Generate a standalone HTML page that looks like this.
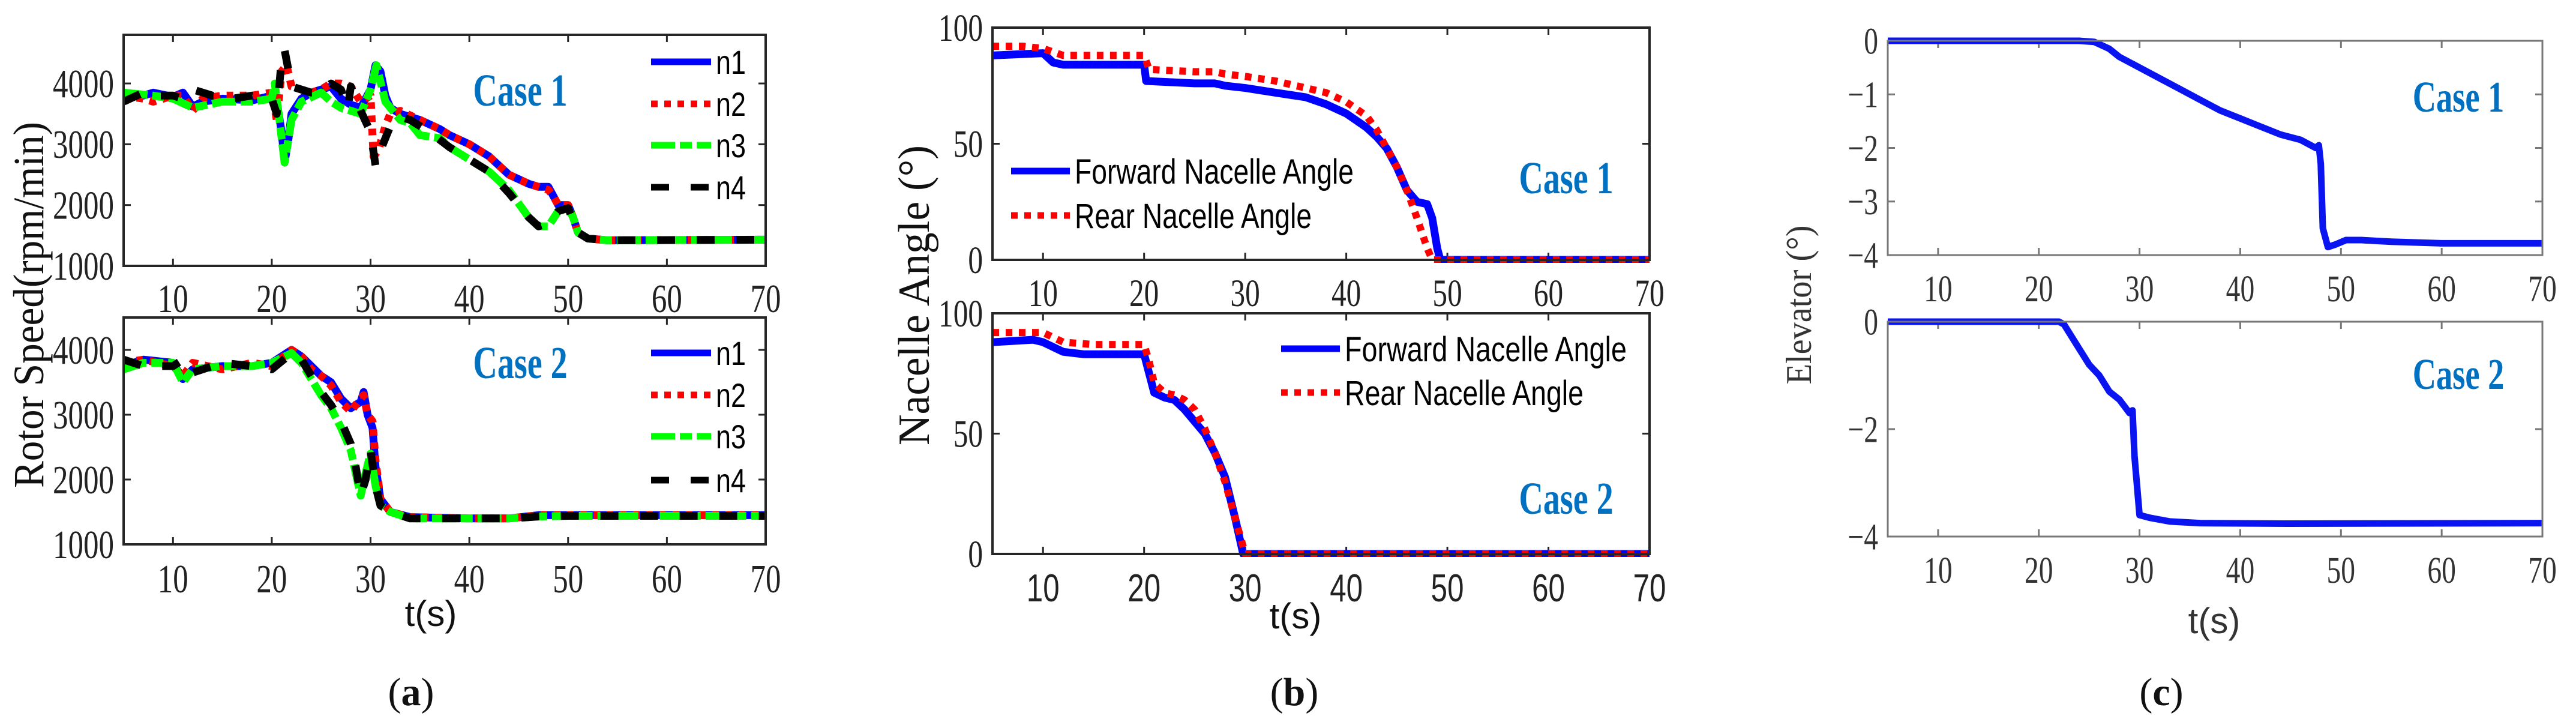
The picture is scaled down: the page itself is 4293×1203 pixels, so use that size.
<!DOCTYPE html>
<html><head><meta charset="utf-8"><style>
html,body{margin:0;padding:0;background:#fff;}
svg{display:block;}
</style></head><body>
<svg id="fig" width="4293" height="1203" viewBox="0 0 4293 1203" xmlns="http://www.w3.org/2000/svg">
<g id="layer"></g>
</svg>
<script>
// ---------- data ----------
const ticksX = [10,20,30,40,50,60,70];
const rpmTicks = [1000,2000,3000,4000];
const nacTicks = [0,50,100];
const elevTicks1 = [-4,-3,-2,-1,0];
const elevTicks2 = [-4,-2,0];

const a1_t_n1 = [5,7,8,10,11,12,13,15,18,20,20.5,21,21.3,21.7,22,23,24,25,26,27,28,29,30,30.5,31,31.5,32,33,35,37,38,40,42,44,46,47,48,48.5,49,50,50.5,51,52,54,70];
const a1_n1   = [3850,3800,3850,3780,3850,3620,3700,3750,3720,3800,3700,3200,2700,3100,3500,3750,3850,3900,3950,3750,3650,3600,3900,4300,4200,3800,3600,3500,3400,3250,3150,3000,2800,2500,2350,2300,2300,2150,2000,2000,1800,1550,1450,1420,1430];
const a1_t_n2 = [5,7,8,10,11,12,13,15,18,20,20.5,21,21.5,22,23,24,25,26,27,28,29,30,30.3,30.8,31.5,32,33,35,37,38,40,42,44,46,47,48,48.5,49,50,50.5,51,52,54,70];
const a1_n2   = [3800,3750,3700,3800,3800,3550,3750,3800,3800,3850,3400,4200,4300,3950,3900,3850,3900,4000,4000,3950,3700,3800,2800,2900,3300,3500,3550,3400,3250,3150,3000,2800,2500,2350,2300,2250,2150,2000,2000,1800,1550,1450,1420,1430];
const a1_t_n3 = [5,8,10,12,15,18,20,20.3,20.7,21.3,22,23,25,26,27,28,29,30,30.6,31.5,33,34,35,37,38,40,42,44,46,47,48,49,50,50.5,51,52,54,70];
const a1_n3   = [3850,3800,3750,3600,3700,3700,3750,4000,3500,2700,3400,3700,3850,3700,3600,3550,3500,3900,4300,3700,3400,3350,3150,3100,2950,2750,2550,2250,1800,1650,1650,1900,1950,1800,1550,1450,1420,1430];
const a1_t_n4 = [5,7,8,10,11,12,14,16,18,20,20.5,21,21.3,22,24,25,26,27,27.7,28,29,30,30.5,31,32,33,34,35,36,38,40,42,44,46,47,48,49,50,51,52,54,70];
const a1_n4   = [3700,3850,3800,3800,3750,3900,3800,3750,3800,3750,3500,4400,4550,3950,3850,3850,4000,3900,3600,3950,3550,3200,2650,2900,3300,3450,3400,3300,3200,2950,2750,2550,2200,1800,1650,1700,1900,1950,1550,1450,1420,1430];

const a2_t_n1 = [5,7,10,11,12,15,18,20,22,23,24,25,26,27,28,29,29.3,29.7,30.2,30.5,31,32,34,40,44,47,50,70];
const a2_n1   = [3750,3850,3800,3550,3700,3750,3750,3800,4000,3900,3750,3600,3500,3250,3100,3200,3350,3000,2800,2200,1700,1500,1420,1400,1400,1450,1450,1450];
const a2_t_n2 = [5,7,10,11,12,15,18,20,22,23,24,25,26,27,28,29,29.3,29.7,30.2,30.5,31,32,34,40,44,47,50,70];
const a2_n2   = [3800,3850,3750,3600,3800,3700,3800,3750,4000,3900,3700,3600,3450,3200,3050,3250,3300,3000,2900,2300,1700,1500,1420,1400,1400,1450,1450,1450];
const a2_t_n3 = [5,7,10,11,12,15,18,20,22,23,24,25,26,27,28,28.5,29,29.5,30,30.5,31,32,34,40,44,47,50,70];
const a2_n3   = [3700,3800,3800,3500,3700,3750,3750,3800,3950,3800,3550,3300,3100,2800,2450,2100,1750,2100,2400,1900,1600,1500,1400,1400,1400,1430,1440,1440];
const a2_t_n4 = [5,7,10,11,12,15,18,20,22,23,24,25,26,27,28,28.5,29,29.5,30,30.5,31,32,34,40,44,47,50,70];
const a2_n4   = [3850,3750,3750,3850,3650,3800,3750,3700,3950,3850,3600,3350,3150,2900,2550,2200,1750,2000,2450,1900,1600,1500,1400,1400,1400,1430,1440,1440];

const b1_t_fwd = [5,10,11,12,20,20.2,25,27,28,30,33,36,38,40,42,43,44,45,46,47,48,48.5,49,49.3,70];
const b1_fwd   = [88,89,85,84,84,77,76,76,75,74,72,70,67,63,57,53,48,40,30,25,24,18,5,0,0];
const b1_t_rear = [5,8,10,12,15,20,20.5,25,27,28,30,33,36,38,40,42,43,44,45,46,47,48,48.5,70];
const b1_rear   = [92,92,91,88,88,88,82,81,81,80,79,77,74,72,68,62,56,48,40,30,18,5,0,0];
const b2_t_fwd = [5,9,10,12,14,20,20.5,21,22,23,24,25,26,27,28,29,29.8,70];
const b2_fwd   = [88,89,88,84,83,83,75,67,65,64,60,55,50,42,32,15,0,0];
const b2_t_rear = [5,10,12,15,20,20.5,21,22,23,24,25,26,27,28,29,30,70];
const b2_rear   = [92,92,88,87,87,80,71,67,66,64,60,52,42,30,15,0,0];

const c1_t = [5,24,25.5,27,28,30,32,34,36,38,40,42,44,46,47.5,47.8,48,48.2,48.7,49.5,50.5,52,55,60,70];
const c1_v = [0,0,-0.02,-0.15,-0.3,-0.5,-0.7,-0.9,-1.1,-1.3,-1.45,-1.6,-1.75,-1.85,-2,-1.95,-2.3,-3.5,-3.85,-3.8,-3.72,-3.72,-3.75,-3.78,-3.78];
const c2_t = [5,22,22.5,23,24,25,26,27,28,29,29.3,29.5,30,31,33,36,45,70];
const c2_v = [0,0,-0.05,-0.2,-0.5,-0.8,-1.0,-1.3,-1.45,-1.7,-1.65,-2.5,-3.6,-3.65,-3.72,-3.75,-3.76,-3.75];

// ---------- drawing ----------
const NS = "http://www.w3.org/2000/svg";
const layer = document.getElementById('layer');
function el(tag, attrs, parent){
  const e = document.createElementNS(NS, tag);
  for (const k in attrs) e.setAttribute(k, attrs[k]);
  (parent||layer).appendChild(e);
  return e;
}
function txt(s, x, y, size, family, parent, extra){
  const t = el('text', Object.assign({x:x, y:y, 'font-size':size, 'font-family':family, fill:'#222'}, extra||{}), parent);
  t.textContent = s;
  return t;
}
const SERIF = '"Liberation Serif", serif';
const SANS = '"Liberation Sans", sans-serif';

function axes(cfg){
  const g = el('g', {});
  
  
  const sx = t => cfg.x0 + (t-5)/(65)*(cfg.x1-cfg.x0);
  const sy = v => cfg.y1 - (v-cfg.ymin)/(cfg.ymax-cfg.ymin)*(cfg.y1-cfg.y0);
  const col = cfg.axisColor || '#262626';
  ticksX.forEach(t => {
    el('line', {x1:sx(t), x2:sx(t), y1:cfg.y1, y2:cfg.y1-12, stroke:col, 'stroke-width':3}, g);
    el('line', {x1:sx(t), x2:sx(t), y1:cfg.y0, y2:cfg.y0+12, stroke:col, 'stroke-width':3}, g);
    const lb = txt(String(t), sx(t), cfg.xLabelY, cfg.tickSize, cfg.tickFont, g, {'text-anchor':'middle', fill:cfg.tickColor||'#222', transform:'translate('+sx(t)+','+cfg.xLabelY+') scale(0.85,1.12) translate('+(-sx(t))+','+(-cfg.xLabelY)+')'});
    
    
  });
  cfg.yTicks.forEach(v => {
    el('line', {x1:cfg.x0, x2:cfg.x0+12, y1:sy(v), y2:sy(v), stroke:col, 'stroke-width':3}, g);
    el('line', {x1:cfg.x1, x2:cfg.x1-12, y1:sy(v), y2:sy(v), stroke:col, 'stroke-width':3}, g);
    const ly = sy(v)+cfg.tickSize*0.38, lx = cfg.x0-16;
    const lb = txt(cfg.fmt ? cfg.fmt(v) : String(v), lx, ly, cfg.tickSize, SERIF, g, {'text-anchor':'end', fill:cfg.tickColor||'#222', transform:'translate('+lx+','+ly+') scale(0.85,1.12) translate('+(-lx)+','+(-ly)+')'});
    
    
  });
  const clipId = cfg.name + '-clip';
  const cp = el('clipPath', {id:clipId}, g);
  el('rect', {x:cfg.x0, y:cfg.y0-20, width:cfg.x1-cfg.x0+20, height:cfg.y1-cfg.y0+25}, cp);
  cfg.series.forEach(s => {
    const d = s.t.map((t,i) => (i?'L':'M') + sx(t).toFixed(1) + ',' + sy(s.v[i]).toFixed(1)).join(' ');
    const p = el('path', {d:d, fill:'none', stroke:s.color, 'stroke-width':s.w, 'stroke-linejoin':'round', 'clip-path':'url(#'+clipId+')'}, g);
    if (s.dash) p.setAttribute('stroke-dasharray', s.dash);
    
    
  });
  const box = el('rect', {x:cfg.x0, y:cfg.y0, width:cfg.x1-cfg.x0, height:cfg.y1-cfg.y0, fill:'none', stroke:col, 'stroke-width':cfg.boxW||4}, g);
  
  
  return {g, sx, sy};
}
function legendEntry(parent, x, y, len, color, w, dash, label, size, name, tlen){
  const lg = el('g', {}, parent);
  
  
  const ln = el('line', {x1:x, x2:x+len, y1:y, y2:y, stroke:color, 'stroke-width':w}, lg);
  if (dash) ln.setAttribute('stroke-dasharray', dash);
  const t = txt(label, x+len+8, y+size*0.36, size, SANS, lg, {fill:'#000'});
  if (tlen) { t.setAttribute('textLength', tlen); t.setAttribute('lengthAdjust', 'spacingAndGlyphs'); }
}
function caseLabel(parent, s, x, y, size, name){
  const t = txt(s, x, y, size, SERIF, parent, {'text-anchor':'middle', 'font-weight':'bold', fill:'#0070C0', transform:'translate('+x+','+y+') scale(0.85,1.15) translate('+(-x)+','+(-y)+')'});
  
  
}
const DOT='11 11', DASH='40 8 20 8', DDASH='30 36';

// Panel (a)
const a1 = axes({name:'rotor-speed-case1', x0:206, x1:1276, y0:58, y1:443, ymin:1000, ymax:4800, yTicks:rpmTicks, xLabelY:520, tickSize:60, tickFont:SERIF,
  series:[{t:a1_t_n1,v:a1_n1,color:'#0000ff',w:13,dn:'n1-line'},{t:a1_t_n2,v:a1_n2,color:'#ff0000',w:13,dash:DOT,dn:'n2-line'},
          {t:a1_t_n3,v:a1_n3,color:'#00ff00',w:13,dash:DASH,dn:'n3-line'},{t:a1_t_n4,v:a1_n4,color:'#000',w:13,dash:DDASH,dn:'n4-line'}]});
legendEntry(a1.g,1085,103,100,'#0000ff',11,null,'n1',56,'legend-n1',50);
legendEntry(a1.g,1085,173,100,'#ff0000',11,DOT,'n2',56,'legend-n2',50);
legendEntry(a1.g,1085,242,100,'#00ff00',11,DASH,'n3',56,'legend-n3',50);
legendEntry(a1.g,1085,312,100,'#000',11,DDASH,'n4',56,'legend-n4',50);
caseLabel(a1.g,'Case 1',867,176,66,'case1-label');

const a2 = axes({name:'rotor-speed-case2', x0:206, x1:1276, y0:529, y1:907, ymin:1000, ymax:4500, yTicks:rpmTicks, xLabelY:987, tickSize:60, tickFont:SERIF,
  series:[{t:a2_t_n1,v:a2_n1,color:'#0000ff',w:13,dn:'n1-line'},{t:a2_t_n2,v:a2_n2,color:'#ff0000',w:13,dash:DOT,dn:'n2-line'},
          {t:a2_t_n3,v:a2_n3,color:'#00ff00',w:13,dash:DASH,dn:'n3-line'},{t:a2_t_n4,v:a2_n4,color:'#000',w:13,dash:DDASH,dn:'n4-line'}]});
legendEntry(a2.g,1085,588,100,'#0000ff',11,null,'n1',56,'legend-n1',50);
legendEntry(a2.g,1085,658,100,'#ff0000',11,DOT,'n2',56,'legend-n2',50);
legendEntry(a2.g,1085,727,100,'#00ff00',11,DASH,'n3',56,'legend-n3',50);
legendEntry(a2.g,1085,800,100,'#000',11,DDASH,'n4',56,'legend-n4',50);
caseLabel(a2.g,'Case 2',867,630,66,'case2-label');

// Panel (b)
const b1 = axes({name:'nacelle-case1', x0:1654, x1:2749, y0:46, y1:433, ymin:0, ymax:100, yTicks:nacTicks, xLabelY:510, tickSize:58, tickFont:SERIF,
  series:[{t:b1_t_fwd,v:b1_fwd,color:'#0000ff',w:13,dn:'forward-nacelle-line'},{t:b1_t_rear,v:b1_rear,color:'#ff0000',w:12,dash:DOT,dn:'rear-nacelle-line'}]});
legendEntry(b1.g,1685,285,98,'#0000ff',11,null,'Forward Nacelle Angle',58,'legend-forward',465);
legendEntry(b1.g,1685,359,98,'#ff0000',11,DOT,'Rear Nacelle Angle',58,'legend-rear',395);
caseLabel(b1.g,'Case 1',2610,322,66,'case1-label');

const b2 = axes({name:'nacelle-case2', x0:1654, x1:2749, y0:522, y1:923, ymin:0, ymax:100, yTicks:nacTicks, xLabelY:1002, tickSize:58, tickFont:SANS,
  series:[{t:b2_t_fwd,v:b2_fwd,color:'#0000ff',w:13,dn:'forward-nacelle-line'},{t:b2_t_rear,v:b2_rear,color:'#ff0000',w:12,dash:DOT,dn:'rear-nacelle-line'}]});
legendEntry(b2.g,2135,581,98,'#0000ff',11,null,'Forward Nacelle Angle',58,'legend-forward',470);
legendEntry(b2.g,2135,654,98,'#ff0000',11,DOT,'Rear Nacelle Angle',58,'legend-rear',398);
caseLabel(b2.g,'Case 2',2610,856,66,'case2-label');

// Panel (c)
const c1 = axes({name:'elevator-case1', x0:3146, x1:4237, y0:68, y1:425, ymin:-4, ymax:0, yTicks:elevTicks1, xLabelY:502, tickSize:56, tickFont:SERIF,
  axisColor:'#777', boxW:3, tickColor:'#333', fmt:v => v<0 ? '\u2212'+Math.abs(v) : String(v),
  series:[{t:c1_t,v:c1_v,color:'#0a14f0',w:11,dn:'elevator-line'}]});
caseLabel(c1.g,'Case 1',4097,186,64,'case1-label');
const c2 = axes({name:'elevator-case2', x0:3146, x1:4237, y0:536, y1:894, ymin:-4, ymax:0, yTicks:elevTicks2, xLabelY:971, tickSize:56, tickFont:SERIF,
  axisColor:'#777', boxW:3, tickColor:'#333', fmt:v => v<0 ? '\u2212'+Math.abs(v) : String(v),
  series:[{t:c2_t,v:c2_v,color:'#0a14f0',w:11,dn:'elevator-line'}]});
caseLabel(c2.g,'Case 2',4097,648,64,'case2-label');

// Axis titles & captions
function label(s, x, y, size, fam, rot, name, color, tlen){
  const t = txt(s, x, y, size, fam, layer, {'text-anchor':'middle', fill:color||'#111'});
  if (rot) t.setAttribute('transform', 'rotate(-90 '+x+' '+y+')');
  if (tlen) { t.setAttribute('textLength', tlen); t.setAttribute('lengthAdjust', 'spacingAndGlyphs'); }
  
  
}
label('Rotor Speed(rpm/min)', 72, 508, 72, SERIF, true, 'y-axis-title-rotor-speed', '#111', 610);
label('Nacelle Angle (°)', 1548, 492, 74, SERIF, true, 'y-axis-title-nacelle-angle', '#111', 500);
label('Elevator (°)', 3018, 508, 60, SERIF, true, 'y-axis-title-elevator', '#333', 265);
label('t(s)', 718, 1043, 60, SANS, false, 'x-axis-title-a');
label('t(s)', 2159, 1047, 60, SANS, false, 'x-axis-title-b');
label('t(s)', 3690, 1055, 60, SANS, false, 'x-axis-title-c', '#333');
function caption(letter, x, name){
  const t = el('text', {x:x, y:1175, 'font-size':66, 'font-family':SERIF, 'text-anchor':'middle', fill:'#111'});
  
  
  t.appendChild(document.createTextNode('('));
  const b = el('tspan', {'font-weight':'bold'}, t); b.textContent = letter;
  t.appendChild(document.createTextNode(')'));
}
caption('a', 685, 'caption-a');
caption('b', 2157, 'caption-b');
caption('c', 3602, 'caption-c');
</script>
</body></html>
